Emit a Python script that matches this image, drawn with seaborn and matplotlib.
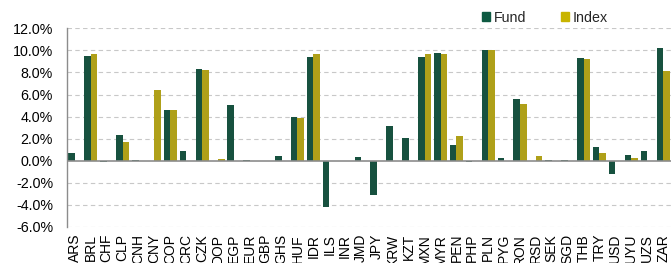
import matplotlib
matplotlib.use("Agg")
import matplotlib.pyplot as plt
from matplotlib.patches import Patch
import seaborn as sns
import pandas as pd

currencies = ["ARS", "BRL", "CHF", "CLP", "CNH", "CNY", "COP", "CRC", "CZK", "DOP",
              "EGP", "EUR", "GBP", "GHS", "HUF", "IDR", "ILS", "INR", "JMD", "JPY",
              "KRW", "KZT", "MXN", "MYR", "PEN", "PHP", "PLN", "PYG", "RON", "RSD",
              "SEK", "SGD", "THB", "TRY", "USD", "UYU", "UZS", "ZAR"]
fund = [0.66, 9.45, -0.08, 2.36, 0.05, 0.0, 4.63, 0.90, 8.30, 0.0,
        5.09, 0.05, -0.06, 0.42, 3.94, 9.39, -4.15, 0.0, 0.33, -3.09,
        3.12, 2.09, 9.39, 9.72, 1.39, -0.08, 10.06, 0.27, 5.60, 0.0,
        0.05, 0.05, 9.33, 1.21, -1.24, 0.55, 0.88, 10.24]
index = [0.0, 9.66, 0.0, 1.66, 0.0, 6.45, 4.63, 0.0, 8.18, 0.15,
         0.0, 0.0, 0.0, 0.0, 3.85, 9.66, 0.0, 0.0, 0.0, 0.0,
         0.0, 0.0, 9.66, 9.66, 2.24, 0.0, 10.00, 0.0, 5.18, 0.39,
         0.0, 0.0, 9.24, 0.73, 0.0, 0.27, 0.0, 8.12]
series_names = ["Fund", "Index"]
ytick_vals = [-6, -4, -2, 0, 2, 4, 6, 8, 10, 12]

colors = {"Fund": "#0E5A42", "Index": "#C8B400"}

df = pd.DataFrame({
    "Currency": currencies * 2,
    "Series": [series_names[0]] * len(currencies) + [series_names[1]] * len(currencies),
    "Value": fund + index,
})

sns.set_style("white")
plt.rcParams["font.family"] = ["Liberation Sans", "DejaVu Sans"]

fig = plt.figure(figsize=(6.71, 2.63), dpi=100)
ax = fig.add_axes([67 / 671, 1 - 227 / 263, 1 - 67 / 671, (227 - 28.3) / 263])

sns.barplot(data=df, x="Currency", y="Value", hue="Series", palette=colors,
            width=0.82, ax=ax, legend=False, edgecolor="none", errorbar=None)

ax.set_ylim(-6, 12)
ax.set_xlim(-0.5, len(currencies) - 0.5)
ax.set_yticks(ytick_vals)
ax.set_yticklabels([f"{v:.1f}%" for v in ytick_vals])
ax.set_xlabel("")
ax.set_ylabel("")
ax.tick_params(axis="both", length=0, labelsize=10, colors="#000000")
ax.tick_params(axis="y", pad=10, labelsize=10.3)
ax.tick_params(axis="x", pad=5, rotation=90)
for lbl in ax.get_xticklabels():
    lbl.set_va("top")

for v in ytick_vals:
    if v != 0:
        ax.axhline(v, color="#C8C8C8", lw=0.8, ls=(0, (4, 3)), zorder=0)
ax.axhline(0, color="#8C8C8C", lw=1.2, zorder=3)

for s in ["top", "right", "bottom"]:
    ax.spines[s].set_visible(False)
ax.spines["left"].set_color("#8C8C8C")
ax.spines["left"].set_linewidth(1.0)

handles = [Patch(color=colors[n], label=n) for n in series_names]
fig.legend(handles=handles, loc="center", bbox_to_anchor=(0.812, 0.932), ncol=2,
           frameon=False, fontsize=10.3, handlelength=0.6, handleheight=0.6,
           handletextpad=0.25, columnspacing=2.4, borderpad=0)

fig.savefig("out.png", dpi=100)
